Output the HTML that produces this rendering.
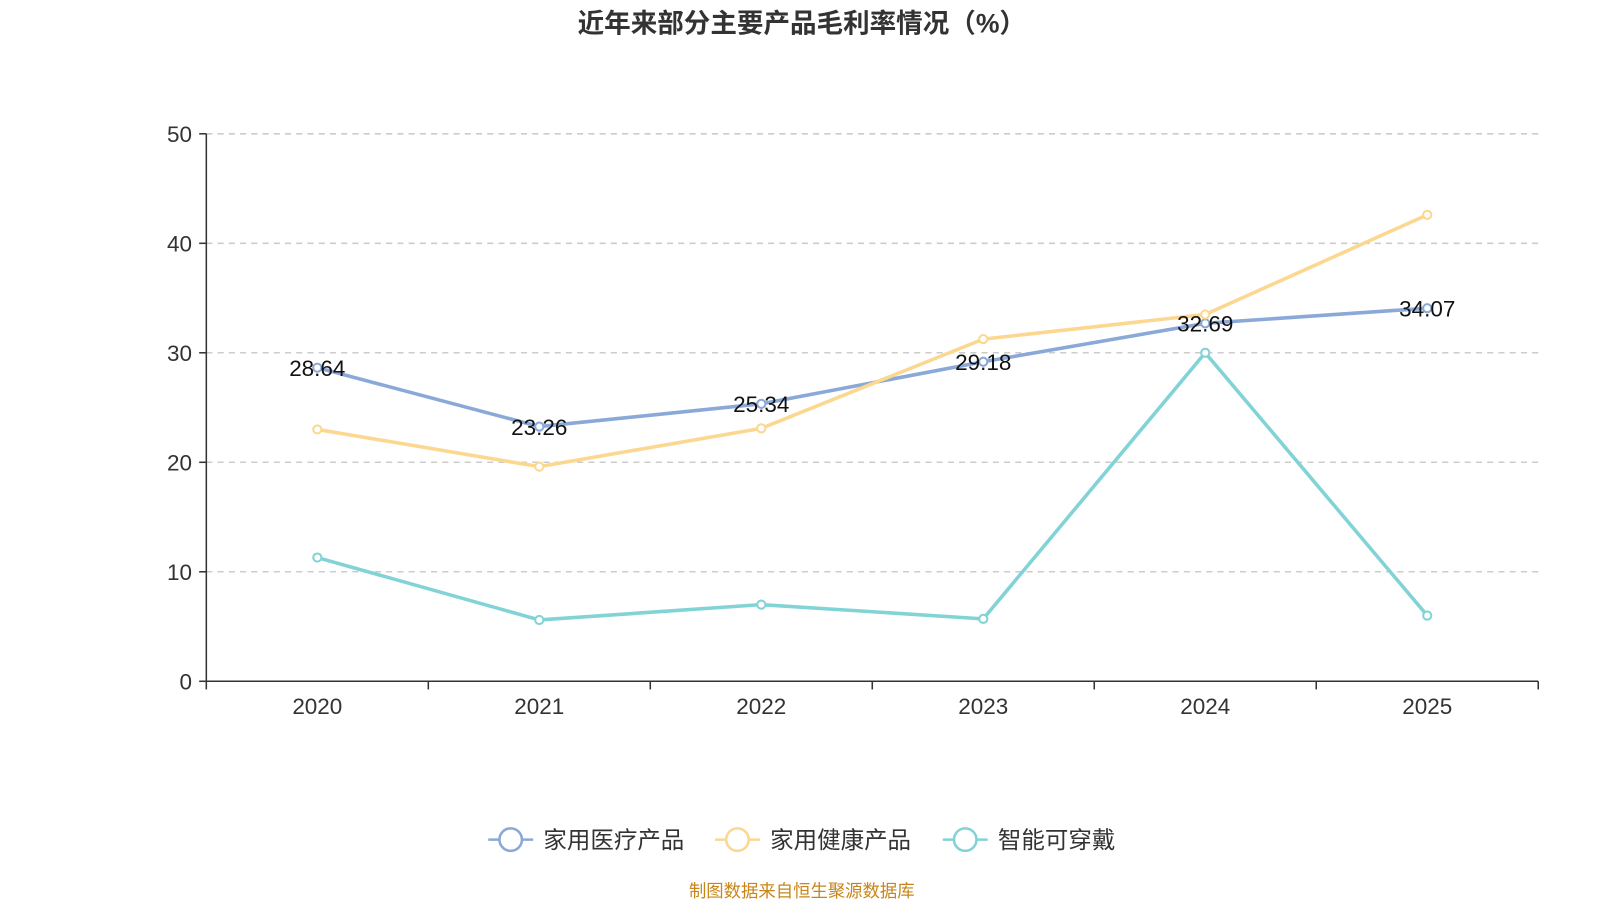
<!DOCTYPE html>
<html><head><meta charset="utf-8"><style>
body{margin:0;background:#fff;}
svg{display:block;font-family:"Liberation Sans","Noto Sans CJK SC",sans-serif;}
</style></head><body>
<svg id="chart" width="1600" height="900" viewBox="0 0 1600 900">
<g transform="scale(1.0214)">
<text x="785" y="32" text-anchor="middle" font-size="26" font-weight="bold" fill="#333">近年来部分主要产品毛利率情况（%）</text>
<g id="grid"></g>
<g id="axes"></g>
<g id="series"></g>
<g id="legend"></g>
<text x="785" y="878" text-anchor="middle" font-size="17" fill="#c8861a">制图数据来自恒生聚源数据库</text>
</g>
</svg>
<script>
const categories=["2020","2021","2022","2023","2024","2025"];
const yTicks=[0,10,20,30,40,50];
const medical=[28.64,23.26,25.34,29.18,32.69,34.07];
const health=[23.0,19.6,23.1,31.25,33.5,42.6];
const wearable=[11.3,5.6,7.0,5.7,30.0,6.0];
const seriesNames=["家用医疗产品","家用健康产品","智能可穿戴"];
const colors=["#8aa8d8","#fcd790","#82d3d6"];
const NS="http://www.w3.org/2000/svg";
const L=202,R=1506,T=131,B=667;
const band=(R-L)/categories.length;
const x=i=>L+band*(i+0.5);
const y=v=>B-(v/50)*(B-T);
function mk(tag,attrs,parent){const e=document.createElementNS(NS,tag);for(const k in attrs)e.setAttribute(k,attrs[k]);parent.appendChild(e);return e;}
const grid=document.getElementById('grid'),axes=document.getElementById('axes'),ser=document.getElementById('series'),leg=document.getElementById('legend');
yTicks.forEach(t=>{
 if(t>0){const g=mk('line',{x1:L,x2:R,y1:y(t),y2:y(t),stroke:'#ccc','stroke-dasharray':'6,5','stroke-width':1.5},grid);
 
 }
 const tk=mk('line',{x1:L-7,x2:L,y1:y(t),y2:y(t),stroke:'#333','stroke-width':1.5},axes);
 
 
 const tx=mk('text',{x:L-14,y:y(t)+8,'text-anchor':'end','font-size':22,fill:'#333'},axes);tx.textContent=t;
 
 
});
const ya=mk('line',{x1:L,x2:L,y1:T,y2:B,stroke:'#333','stroke-width':1.5},axes);


const xa=mk('line',{x1:L,x2:R,y1:B,y2:B,stroke:'#333','stroke-width':1.5},axes);


for(let i=0;i<=categories.length;i++){const t=mk('line',{x1:L+band*i,x2:L+band*i,y1:B,y2:B+8,stroke:'#333','stroke-width':1.5},axes);
 
 }
categories.forEach((c,i)=>{const t=mk('text',{x:x(i),y:B+32,'text-anchor':'middle','font-size':22,fill:'#333'},axes);t.textContent=c;
 
 });
[medical,health,wearable].forEach((d,s)=>{
 const p=mk('polyline',{points:d.map((v,i)=>x(i)+','+y(v)).join(' '),fill:'none',stroke:colors[s],'stroke-width':3.5,'stroke-linejoin':'round'},ser);
 
 
 d.forEach((v,i)=>{const c=mk('circle',{cx:x(i),cy:y(v),r:4,fill:'#fff',stroke:colors[s],'stroke-width':2},ser);
  
  });
});
medical.forEach((v,i)=>{const t=mk('text',{x:x(i),y:y(v)+8,'text-anchor':'middle','font-size':22,fill:'#111'},ser);t.textContent=v.toFixed(2);
 
 });
const lx=[500,722,945];
seriesNames.forEach((n,s)=>{
 const g=mk('g',{},leg);
 
 
 mk('line',{x1:lx[s]-22,x2:lx[s]+22,y1:822,y2:822,stroke:colors[s],'stroke-width':2.5},g);
 mk('circle',{cx:lx[s],cy:822,r:11,fill:'#fff',stroke:colors[s],'stroke-width':2.5},g);
 const t=mk('text',{x:lx[s]+32,y:830,'font-size':23,fill:'#333'},g);t.textContent=n;
});
</script>
</body></html>
